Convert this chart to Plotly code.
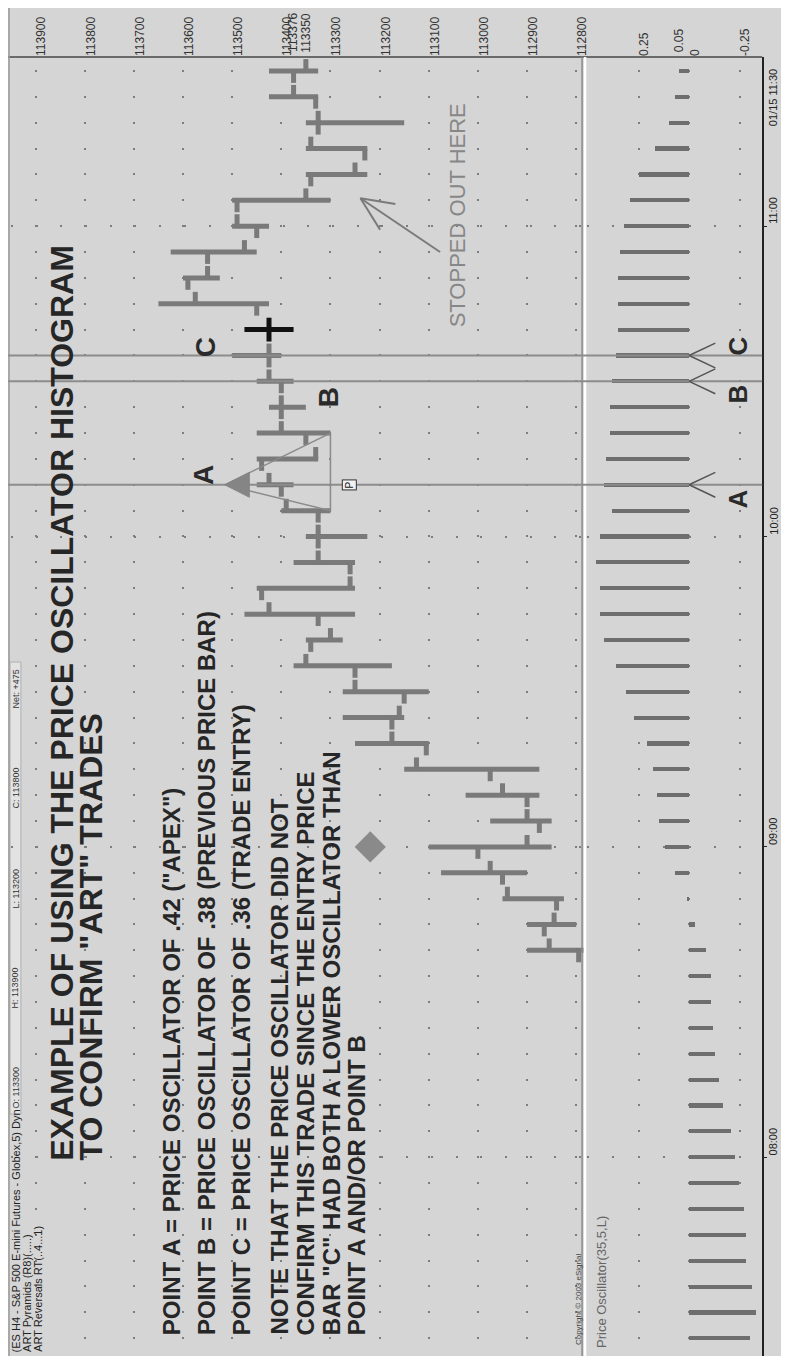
import plotly.graph_objects as go

# ---------------- data ----------------
bar_times = ["08:40", "08:45", "08:50", "08:55", "09:00", "09:05", "09:10", "09:15", "09:20", "09:25",
             "09:30", "09:35", "09:40", "09:45", "09:50", "09:55", "10:00", "10:05", "10:10", "10:15",
             "10:20", "10:25", "10:30", "10:35", "10:40", "10:45", "10:50", "10:55", "11:00", "11:05",
             "11:10", "11:15", "11:20", "11:25", "11:30"]
bar_open = [112795, 112865, 112840, 112950, 113000, 112875, 112900, 112975, 113105, 113175,
            113150, 113250, 113340, 113325, 113440, 113260, 113325, 113325, 113400, 113440,
            113350, 113400, 113400, 113425, 113425, 113450, 113590, 113550, 113450, 113490,
            113340, 113230, 113325, 113330, 113375]
bar_high = [112900, 112900, 112950, 113075, 113100, 112975, 113025, 113150, 113250, 113275,
            113275, 113375, 113350, 113475, 113450, 113375, 113350, 113400, 113450, 113450,
            113450, 113425, 113450, 113500, 113475, 113650, 113600, 113625, 113500, 113500,
            113350, 113350, 113350, 113425, 113425]
bar_low = [112785, 112800, 112825, 112900, 112850, 112850, 112875, 112875, 113100, 113150,
           113100, 113175, 113275, 113250, 113250, 113250, 113225, 113300, 113375, 113325,
           113300, 113350, 113375, 113400, 113375, 113425, 113525, 113450, 113425, 113300,
           113225, 113225, 113150, 113325, 113325]
bar_close = [112855, 112845, 112940, 112975, 112900, 112900, 112950, 113125, 113175, 113160,
             113250, 113350, 113300, 113425, 113260, 113325, 113325, 113390, 113425, 113330,
             113400, 113400, 113425, 113425, 113425, 113575, 113550, 113475, 113490, 113350,
             113250, 113340, 113325, 113375, 113350]
entry_bar_time = "10:40"

osc_times = ["07:25", "07:30", "07:35", "07:40", "07:45", "07:50", "07:55", "08:00", "08:05", "08:10",
             "08:15", "08:20", "08:25", "08:30", "08:35", "08:40", "08:45", "08:50", "08:55", "09:00",
             "09:05", "09:10", "09:15", "09:20", "09:25", "09:30", "09:35", "09:40", "09:45", "09:50",
             "09:55", "10:00", "10:05", "10:10", "10:15", "10:20", "10:25", "10:30", "10:35", "10:40",
             "10:45", "10:50", "10:55", "11:00", "11:05", "11:10", "11:15", "11:20", "11:25", "11:30"]
osc_values = [-0.30, -0.33, -0.31, -0.28, -0.28, -0.27, -0.25, -0.23, -0.21, -0.17,
              -0.15, -0.13, -0.12, -0.11, -0.11, -0.085, -0.03, 0.01, 0.07, 0.12,
              0.15, 0.16, 0.18, 0.21, 0.27, 0.31, 0.36, 0.42, 0.44, 0.44,
              0.46, 0.44, 0.38, 0.42, 0.41, 0.39, 0.39, 0.38, 0.36, 0.35,
              0.35, 0.35, 0.34, 0.32, 0.29, 0.25, 0.17, 0.10, 0.07, 0.05]

price_ticks = [113900, 113800, 113700, 113600, 113500, 113400, 113300, 113200, 113100, 113000, 112900, 112800]
last_price_labels = [113376, 113350]
time_ticks = ["08:00", "09:00", "10:00", "11:00"]
last_time_label = "01/15 11:30"
osc_ticks = [0.25, 0, -0.25]
osc_ticktext = ["0.25", "0", "-0.25"]
osc_last_label = 0.05
header_items = ["O: 113300", "H: 113900", "L: 113200", "C: 113800", "Net: +475"]

points_abc = {"A": "10:10", "B": "10:30", "C": "10:35"}
apex_price = 113515
apex_base_price = 113300
apex_base_times = ["10:05", "10:20"]
p_marker = (113261, "10:10")
diamond_price, diamond_time = 113219, "09:00"
stop_tip = (113239, 665.4)
stop_tail = (113077, 655.0)

# ---------------- helpers ----------------
FIG_W, FIG_H = 789, 1356
OFF = 8  # the page draws the figure 8 px in from the top-left corner
def px(x): return (x - OFF) / FIG_W          # x given in screenshot pixels
def py(y): return (FIG_H - (y - OFF)) / FIG_H  # y given in screenshot pixels
def mins(t):
    h, m = t.split(":")
    return int(h) * 60 + int(m)

BG = "#d5d5d5"
BAR = "#7a7a7a"
TXT = "#262626"
FONT = "Liberation Sans, Arial, sans-serif"
NARROW = "Liberation Sans Narrow, Arial Narrow, Liberation Sans, Arial, sans-serif"

Y_TOP, Y_BOT = 57, 1358
T_TOP, T_BOT = 692.7, 441.2
X_LEFT, X_SEP, X_RIGHT = 8, 588, 766
P_LEFT, P_RIGHT = 113956, 112782
O_LEFT, O_RIGHT = 0.515, -0.362
TICK = 2.3

fig = go.Figure()

def ohlc_path(sel):
    xs, ys = [], []
    for t, o, h, l, c in zip(bar_times, bar_open, bar_high, bar_low, bar_close):
        if not sel(t):
            continue
        m = mins(t)
        xs += [l, h, None, o, o, None, c, c, None]
        ys += [m, m, None, m, m - TICK, None, m, m + TICK, None]
    return xs, ys

xs, ys = ohlc_path(lambda t: t != entry_bar_time)
fig.add_trace(go.Scatter(x=xs, y=ys, mode="lines", line=dict(color=BAR, width=5),
                         xaxis="x", yaxis="y", hoverinfo="skip", showlegend=False))
xs, ys = ohlc_path(lambda t: t == entry_bar_time)
fig.add_trace(go.Scatter(x=xs, y=ys, mode="lines", line=dict(color="#111111", width=5),
                         xaxis="x", yaxis="y", hoverinfo="skip", showlegend=False))

fig.add_trace(go.Scatter(x=[diamond_price], y=[mins(diamond_time)], mode="markers",
                         marker=dict(symbol="diamond", size=24, color="#8a8a8a"),
                         xaxis="x", yaxis="y", hoverinfo="skip", showlegend=False))

fig.add_trace(go.Bar(x=osc_values, y=[mins(t) for t in osc_times], orientation="h",
                     width=0.8, marker=dict(color="#6e6e6e", line=dict(width=0)),
                     xaxis="x2", yaxis="y2", hoverinfo="skip", showlegend=False))

dots_v = "0px,13px,2px,10.86px"
fig.update_layout(
    width=FIG_W, height=FIG_H, margin=dict(l=0, r=0, t=0, b=0),
    paper_bgcolor=BG, plot_bgcolor=BG, showlegend=False,
    xaxis=dict(domain=[px(X_LEFT), px(X_SEP)], range=[P_LEFT, P_RIGHT], anchor="y", side="top",
               tickmode="array", tickvals=price_ticks, ticktext=[str(v) for v in price_ticks],
               tickangle=-90, tickfont=dict(size=12, color="#333", family=NARROW),
               ticklabelshift=-6,
               showgrid=True, gridcolor="#7d7d7d", gridwidth=2, griddash=dots_v,
               zeroline=False, showline=False, ticks=""),
    yaxis=dict(domain=[py(Y_BOT), py(Y_TOP)], range=[T_BOT, T_TOP], anchor="x",
               tickmode="array", tickvals=[mins(t) for t in time_ticks], showticklabels=False,
               showgrid=True, gridcolor="#7d7d7d", gridwidth=2, griddash="0px,2.9px,2px,19.8px",
               zeroline=False, showline=False, ticks=""),
    xaxis2=dict(domain=[px(X_SEP), px(X_RIGHT)], range=[O_LEFT, O_RIGHT], anchor="y2", side="top",
                tickmode="array", tickvals=osc_ticks, ticktext=osc_ticktext,
                tickangle=-90, tickfont=dict(size=12, color="#333", family=NARROW),
                ticklabelshift=-6,
                showgrid=True, gridcolor="#7d7d7d", gridwidth=2, griddash=dots_v,
                zeroline=False, showline=False, ticks=""),
    yaxis2=dict(domain=[py(Y_BOT), py(Y_TOP)], matches="y", anchor="x2", side="right",
                tickmode="array", tickvals=[mins(t) for t in time_ticks], showticklabels=False,
                ticks="outside", ticklen=3, tickcolor="#222",
                showgrid=True, gridcolor="#7d7d7d", gridwidth=2, griddash="0px,1.9px,2px,21.5px",
                zeroline=False, showline=True, linecolor="#222", linewidth=1.5),
    bargap=0,
)

shapes = []
shapes.append(dict(type="rect", xref="paper", yref="paper", x0=px(10), x1=px(21),
                   y0=py(1114), y1=py(662), fillcolor="#e2e2e2", line=dict(color="#b0b0b0", width=1),
                   layer="below"))
shapes.append(dict(type="line", xref="paper", yref="paper", x0=px(X_LEFT), x1=px(X_RIGHT),
                   y0=py(Y_TOP), y1=py(Y_TOP), line=dict(color="#6a6a6a", width=2)))
shapes.append(dict(type="line", xref="paper", yref="paper", x0=px(X_LEFT + 1), x1=px(X_LEFT + 1),
                   y0=0, y1=1, line=dict(color="#9a9a9a", width=1.5)))
shapes.append(dict(type="line", xref="paper", yref="paper", x0=px(X_SEP - 3), x1=px(X_SEP - 3),
                   y0=py(Y_BOT), y1=py(Y_TOP), line=dict(color="#8a8a8a", width=1.5)))
shapes.append(dict(type="line", xref="paper", yref="paper", x0=px(X_SEP), x1=px(X_SEP),
                   y0=py(Y_BOT), y1=py(Y_TOP), line=dict(color="#ffffff", width=2.5)))

for k, t in points_abc.items():
    m = mins(t)
    shapes.append(dict(type="line", xref="paper", yref="y", x0=px(X_LEFT), x1=px(X_RIGHT),
                       y0=m, y1=m, line=dict(color="#8c8c8c", width=2)))
    for d in (-2.4, 2.4):
        shapes.append(dict(type="line", xref="x2", yref="y2", x0=0.0, x1=-0.13,
                           y0=m, y1=m + d, line=dict(color="#555", width=1.5)))

mA = mins(points_abc["A"])
m0, m1 = mins(apex_base_times[0]), mins(apex_base_times[1])
for mm in (m0, m1):
    shapes.append(dict(type="line", xref="x", yref="y", x0=apex_price, x1=apex_base_price,
                       y0=mA, y1=mm, line=dict(color="#8a8a8a", width=1.5)))
shapes.append(dict(type="line", xref="x", yref="y", x0=apex_base_price, x1=apex_base_price,
                   y0=m0, y1=m1, line=dict(color="#8a8a8a", width=1.5)))
shapes.append(dict(type="path", xref="x", yref="y",
                   path=f"M {apex_price},{mA} L {apex_price - 50},{mA + 2.4} L {apex_price - 50},{mA - 2.4} Z",
                   fillcolor="#858585", line=dict(color="#858585", width=1)))

shapes.append(dict(type="line", xref="x", yref="y", x0=stop_tail[0], x1=stop_tip[0],
                   y0=stop_tail[1], y1=stop_tip[1], line=dict(color="#7a7a7a", width=2)))
for dx, dy in ((-71, -1.1), (-40, -6.1)):
    shapes.append(dict(type="line", xref="x", yref="y", x0=stop_tip[0], x1=stop_tip[0] + dx,
                       y0=stop_tip[1], y1=stop_tip[1] + dy, line=dict(color="#7a7a7a", width=2)))

fig.update_layout(shapes=shapes)

ann = []
def vtext(text, x, y, size, color=TXT, weight="normal", family=FONT, xanchor="center",
          yanchor="bottom", xref="paper", yref="paper", **kw):
    ann.append(dict(text=text, x=x, y=y, xref=xref, yref=yref, textangle=-90, showarrow=False,
                    xanchor=xanchor, yanchor=yanchor,
                    font=dict(size=size, color=color, family=family, weight=weight), **kw))

# header
vtext("(ES H4 - S&amp;P 500 E-mini Futures - Globex,5) Dyn", px(16), py(1354), 11, "#222", family=NARROW)
for i, item in enumerate(header_items):
    vtext(item, px(16), py(1110 - 100 * i), 9, "#333", family=NARROW)
vtext("ART Pyramids (R8)(.....)", px(27), py(1354), 11, "#222", family=NARROW)
vtext("ART Reversals RT(..4...1)", px(38), py(1354), 11, "#222", family=NARROW)

# title
vtext("EXAMPLE OF USING THE PRICE OSCILLATOR HISTOGRAM", px(62), py(1163), 32, weight="bold")
vtext("TO CONFIRM \"ART\" TRADES", px(91), py(1163), 32, weight="bold")

notes = [(172, "POINT A = PRICE OSCILLATOR OF .42 (\"APEX\")"),
         (207, "POINT B = PRICE OSCILLATOR OF .38 (PREVIOUS PRICE BAR)"),
         (243, "POINT C = PRICE OSCILLATOR OF .36 (TRADE ENTRY)"),
         (280, "NOTE THAT THE PRICE OSCILLATOR DID NOT"),
         (307, "CONFIRM THIS TRADE SINCE THE ENTRY PRICE"),
         (333, "BAR \"C\" HAD BOTH A LOWER OSCILLATOR THAN"),
         (358, "POINT A AND/OR POINT B")]
for x, t in notes:
    vtext(t, px(x), py(1337), 24, weight="bold")

vtext("A", 113557, 611.9, 28, "#2a2a2a", weight="bold", xref="x", yref="y", yanchor="middle")
vtext("B", 113304, 627.0, 28, "#2a2a2a", weight="bold", xref="x", yref="y", yanchor="middle")
vtext("C", 113555, 636.6, 28, "#2a2a2a", weight="bold", xref="x", yref="y", yanchor="middle")
vtext("A", -0.244, 607.2, 26, "#2a2a2a", weight="bold", xref="x2", yref="y2", yanchor="middle")
vtext("B", -0.244, 627.5, 26, "#2a2a2a", weight="bold", xref="x2", yref="y2", yanchor="middle")
vtext("C", -0.244, 636.8, 26, "#2a2a2a", weight="bold", xref="x2", yref="y2", yanchor="middle")

vtext("P", p_marker[0], mins(p_marker[1]), 10, "#222", xref="x", yref="y", yanchor="middle",
      bgcolor="#f2f2f2", bordercolor="#333", borderwidth=1, borderpad=1)

vtext("STOPPED OUT HERE", 113041, 640, 22, "#878787", xref="x", yref="y")

for v in last_price_labels:
    vtext(str(v), v, py(Y_TOP) + 0.002, 12, "#333", family=NARROW, xref="x", yref="paper")
vtext(f"{osc_last_label:.2f}", osc_last_label, py(Y_TOP) + 0.002, 12, "#333", family=NARROW,
      xref="x2", yref="paper")

# time axis labels (right side), text starting at each tick
for t in time_ticks:
    vtext(t, px(769), mins(t), 11, "#222", family=NARROW, xanchor="left", yanchor="bottom",
          xref="paper", yref="y2")
vtext(last_time_label, px(769), py(98), 11, "#222", family=NARROW, xanchor="left", yanchor="middle")

vtext("Copyright © 2003 eSignal", px(581), py(1347), 8, "#444", family=NARROW)
vtext("Price Oscillator(35,5,L)", px(604), py(1350), 13, "#666", family=NARROW)

fig.update_layout(annotations=ann)
fig.write_html("out.html")
